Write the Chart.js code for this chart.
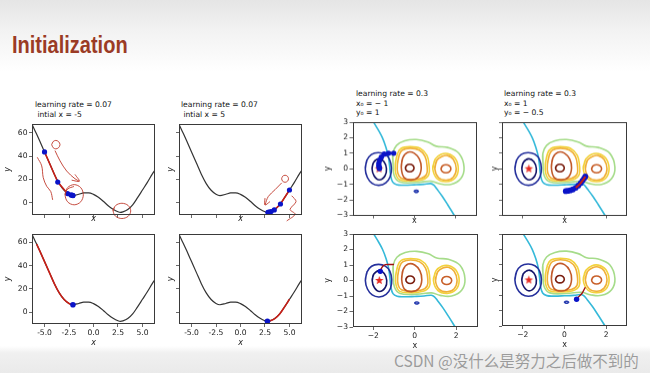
<!DOCTYPE html>
<html>
<head>
<meta charset="utf-8">
<script src="https://cdn.jsdelivr.net/npm/chart.js@4.4.0/dist/chart.umd.min.js"></script>
<style>
html, body { margin: 0; padding: 0; }
body {
  width: 650px; height: 373px; position: relative; overflow: hidden;
  font-family: "DejaVu Sans", sans-serif;
  background: linear-gradient(#e5e5e5 0px, #f2f2f2 30px, #ffffff 72px, #ffffff 346px, #f0f0f0 353px, #eaeaea 373px);
}
#slideTitle {
  position: absolute; left: 12px; top: 32px; line-height: 23px;
  font: bold 23px "Liberation Sans", Arial, sans-serif; color: #9b3b25;
  transform: scaleX(0.87); transform-origin: 0 0; white-space: nowrap;
}
.ttl { position: absolute; font-size: 7.6px; color: #111; white-space: pre; }
.t1 { line-height: 10.5px; top: 99.7px; }
.t2 { line-height: 9.6px; top: 89px; }
canvas { position: absolute; }
#mark {
  position: absolute; left: 394px; top: 349px; line-height: 16px;
  font: 15.5px "Noto Sans CJK SC", sans-serif; color: rgba(128,128,128,0.75); white-space: nowrap;
}
</style>
</head>
<body>
<div id="slideTitle">Initialization</div>
<div class="ttl t1" style="left:35px">learning rate = 0.07
 intial x = -5</div>
<div class="ttl t1" style="left:181px">learning rate = 0.07
 intial x = 5</div>
<div class="ttl t2" style="left:356px">learning rate = 0.3
x₀ = − 1
y₀ = 1</div>
<div class="ttl t2" style="left:504px">learning rate = 0.3
x₀ = 1
y₀ = − 0.5</div>
<div id="mark">CSDN @没什么是努力之后做不到的</div>

<script>
// 1-d loss curve
const curveX = [-6.28, -6.0, -5.8, -5.5, -5.0, -4.5, -4.0, -3.5, -3.0, -2.5, -2.1, -1.5, -1.0, -0.5, 0.0, 0.5, 1.0, 1.5, 2.0, 2.5, 2.75, 3.0, 3.5, 4.0, 4.5, 5.0, 5.5, 6.0, 6.28];
const curveY = [67, 62, 58.5, 53, 43.5, 34, 24.5, 16.5, 10.8, 7.4, 6.3, 7.4, 8.5, 8.6, 7.3, 4.8, 1.4, -2.4, -5.4, -7.5, -8.0, -7.6, -5.6, -1.6, 4.5, 11, 17.5, 24.5, 28];

const xTicks1d = [-5, -2.5, 0, 2.5, 5];
const yTicks1d = [0, 20, 40, 60];
const xTicks2d = [-2, 0, 2];
const yTicks2d = [-3, -2, -1, 0, 1, 2, 3];

// gradient descent steps, 1-d
const pathAX = [-5.0, -3.65, -2.65, -2.3, -2.17, -2.12, -2.1];
const pathAY = [43.5, 17.8, 8.0, 6.8, 6.45, 6.35, 6.3];
const pathBX = [5.0, 4.08, 3.45, 3.12, 2.95, 2.85, 2.8];
const pathBY = [11, -0.9, -6.0, -7.4, -7.8, -7.95, -8.0];
const endC = [-2.1, 6.3];
const endD = [2.75, -8.0];

// contour lines of the 2-d surface
const navyOuter = [[-2.38,0],[-2.3,0.55],[-2.08,0.92],[-1.75,1.04],[-1.42,0.93],[-1.2,0.6],[-1.11,0.05],[-1.17,-0.5],[-1.38,-0.9],[-1.72,-1.06],[-2.05,-0.93],[-2.28,-0.55]];
const navyInner = [[-2.05,0],[-1.98,0.4],[-1.72,0.64],[-1.47,0.45],[-1.35,0],[-1.42,-0.45],[-1.7,-0.71],[-1.95,-0.45]];
const blueBlob = [[0,-1.45],[0.05,-1.395],[0.1,-1.385],[0.15,-1.395],[0.2,-1.45],[0.15,-1.505],[0.1,-1.515],[0.05,-1.505]];
const cyanLine = [[-2.0,3.05],[-1.75,2.5],[-1.55,2.0],[-1.38,1.4],[-1.26,0.8],[-1.2,0.2],[-1.15,-0.4],[-1.05,-0.85],[-0.85,-1.02],[-0.5,-1.05],[0,-1.03],[0.45,-1.0],[0.8,-0.95],[0.95,-1.05],[1.1,-1.3],[1.35,-1.75],[1.62,-2.3],[1.97,-3.05]];
const greenRing = [[-1.03,0.33],[-1.04,0.98],[-0.86,1.5],[-0.46,1.8],[0.1,1.88],[0.66,1.72],[1.06,1.45],[1.62,1.37],[2.18,0.98],[2.42,0.1],[2.26,-0.63],[1.78,-1.0],[1.22,-0.96],[0.82,-0.8],[0.1,-0.88],[-0.7,-0.84],[-0.98,-0.42]];
const yellowLeft = [[-0.92,0.3],[-0.82,0.95],[-0.65,1.3],[-0.2,1.42],[0.3,1.3],[0.62,0.85],[0.72,0.2],[0.7,-0.4],[0.4,-0.7],[-0.2,-0.78],[-0.72,-0.7],[-0.9,-0.3]];
const orangeLeft = [[-0.82,0.3],[-0.73,0.88],[-0.58,1.2],[-0.2,1.32],[0.24,1.2],[0.52,0.8],[0.62,0.2],[0.6,-0.35],[0.33,-0.62],[-0.2,-0.69],[-0.64,-0.6],[-0.8,-0.28]];
const siennaLeft = [[-0.63,0.1],[-0.56,0.7],[-0.32,1.06],[0,1.0],[0.25,0.62],[0.34,0.05],[0.2,-0.52],[-0.15,-0.72],[-0.5,-0.55]];
const brownLeft = [[-0.43,0.05],[-0.37,0.22],[-0.22,0.29],[-0.07,0.22],[-0.01,0.05],[-0.07,-0.12],[-0.22,-0.19],[-0.37,-0.12]];
const yellowRight = [[0.9,0],[1.02,0.62],[1.3,0.92],[1.62,0.97],[1.98,0.68],[2.14,0],[1.98,-0.6],[1.56,-0.83],[1.12,-0.65]];
const orangeRight = [[1.0,0],[1.1,0.55],[1.35,0.8],[1.62,0.85],[1.9,0.6],[2.04,0],[1.9,-0.53],[1.56,-0.73],[1.18,-0.57]];
const siennaRight = [[1.3,0],[1.37,0.18],[1.54,0.26],[1.71,0.18],[1.78,0],[1.71,-0.18],[1.54,-0.26],[1.37,-0.18]];
const minimum = [-1.71, 0.0];

// gradient descent steps, 2-d
const pathEX = [-1.0, -1.25, -1.46, -1.6, -1.68, -1.72, -1.72, -1.7, -1.69];
const pathEY = [1.0, 1.0, 0.94, 0.75, 0.55, 0.35, 0.2, 0.08, 0.02];
const pathFX = [1.0, 0.94, 0.86, 0.77, 0.66, 0.54, 0.4, 0.27, 0.15, 0.06];
const pathFY = [-0.5, -0.62, -0.77, -0.93, -1.08, -1.22, -1.33, -1.39, -1.42, -1.44];
const pathGX = [-1.0, -1.2, -1.42, -1.55, -1.63, -1.66];
const pathGY = [1.03, 1.03, 1.02, 0.9, 0.72, 0.59];
const pathHX = [1.0, 0.85, 0.66, 0.58];
const pathHY = [-0.47, -0.85, -1.13, -1.26];

// hand-drawn red pen marks on the slide
const penA = [
  [[-2.9,7],[-2.65,13],[-1.97,15.6],[-1.3,13],[-1.04,7],[-1.3,1],[-1.97,-1.6],[-2.65,1],[-2.9,7.5],[-2.6,12],[-2.0,14]],
  [[2.0,-6.8],[2.26,-2.2],[2.9,-0.3],[3.54,-2.2],[3.8,-6.8],[3.54,-11.4],[2.9,-13.3],[2.26,-11.4],[2.0,-6.8],[2.1,-4]],
  [[-4.27,49.7],[-4.12,52.3],[-3.85,53.3],[-3.57,52.3],[-3.42,49.7],[-3.57,47.1],[-3.85,46.1],[-4.12,47.1],[-4.27,49.7]],
  [[-3.93,44.6],[-3.42,35.9],[-2.74,27.2],[-1.89,20.6],[-1.45,18.5]],
  [[-1.89,24.3],[-1.45,18.5],[-2.23,19.4]],
  [[-5.74,38.9],[-5.29,31.6],[-5.13,21.5],[-4.78,14.2],[-4.37,9.8],[-4.17,2.6]]
];
const penB = [
  [[4.2,20.6],[4.3,22.7],[4.55,23.6],[4.8,22.7],[4.9,20.6],[4.8,18.5],[4.55,17.6],[4.3,18.5],[4.2,20.6]],
  [[4.21,17.1],[3.53,11.3],[2.84,5.5],[2.5,-1.7]],
  [[2.5,4.1],[2.5,-1.7],[3.01,1.1]],
  [[5.23,6.1],[5.67,1.1],[5.06,-5.5],[5.57,-9.6],[4.72,-15.4]]
];

const xy = (xs, ys) => xs.map((x, i) => ({x, y: ys[i]}));
const pairs = arr => arr.map(([x, y]) => ({x, y}));
const loop = arr => pairs(arr.concat([arr[0], arr[1]]));
const curve = xy(curveX, curveY);

function line(data, color, width, opt) {
  return Object.assign({data, showLine: true, borderColor: color, borderWidth: width,
    pointRadius: 0, tension: 0.4}, opt || {});
}
function dots(data, color, r) {
  return {data, showLine: false, pointRadius: r, pointBackgroundColor: color,
    pointBorderColor: color, pointBorderWidth: 0};
}

function starImage(r, color) {
  const c = document.createElement('canvas');
  c.width = c.height = 2 * r + 2;
  const g = c.getContext('2d');
  g.fillStyle = color;
  g.beginPath();
  for (let i = 0; i < 10; i++) {
    const a = -Math.PI / 2 + i * Math.PI / 5, rr = i % 2 ? r * 0.42 : r;
    g.lineTo(r + 1 + rr * Math.cos(a), r + 1 + rr * Math.sin(a));
  }
  g.closePath();
  g.fill();
  return c;
}
const star = starImage(4.5, '#e8281e');

const RED = '#c81e16', BLUE = '#0a14c8', PEN = '#c0392b';

function penSets(list) {
  return list.map(p => line(pairs(p), PEN, 0.9, {clip: false, tension: 0.35}));
}

function contours() {
  return [
    line(loop(greenRing), '#a6dc8a', 1.6),
    line(loop(yellowLeft), '#f2d23c', 1.6),
    line(loop(orangeLeft), '#f0b038', 1.6),
    line(loop(siennaLeft), '#c25a2a', 1.6),
    line(loop(brownLeft), '#7b1f10', 1.6),
    line(loop(yellowRight), '#f2d23c', 1.6),
    line(loop(orangeRight), '#f0b038', 1.6),
    line(loop(siennaRight), '#c8602a', 1.6),
    line(pairs(cyanLine), '#35b9d9', 1.6),
    line(loop(navyOuter), '#25309c', 1.6),
    line(loop(navyInner), '#16166a', 1.6),
    line(loop(blueBlob), '#2a3eb0', 1.6)
  ];
}
const starSet = () => ({data: [{x: minimum[0], y: minimum[1]}], showLine: false, pointStyle: star, pointRadius: 5});

const frameBox = {
  id: 'frameBox',
  afterDraw(chart) {
    const a = chart.chartArea, g = chart.ctx;
    g.save();
    g.strokeStyle = '#3a3a3a';
    g.lineWidth = 1;
    g.strokeRect(Math.round(a.left) + 0.5, Math.round(a.top) + 0.5,
      Math.round(a.right - a.left) - 1, Math.round(a.bottom - a.top) - 1);
    g.restore();
  }
};

function makeChart(p) {
  const T = 10, R = 10;
  const W = p.w + p.L + R, H = p.h + T + p.B;
  const cv = document.createElement('canvas');
  cv.width = W; cv.height = H;
  cv.style.left = (p.x - p.L) + 'px';
  cv.style.top = (p.y - T) + 'px';
  cv.style.width = W + 'px';
  cv.style.height = H + 'px';
  document.body.appendChild(cv);
  p.datasets.forEach((d, i, a) => { d.order = a.length - i; });

  const is2d = p.kind === '2d';
  const tickFont = {family: 'DejaVu Sans', size: 7.6};
  const titleFont = {family: 'DejaVu Sans', size: 8, style: is2d ? 'normal' : 'italic'};
  const fmt2d = v => String(v).replace('-', '\u2212');
  const axis = (min, max, ticks, fmt, show, fit, title) => ({
    type: 'linear', min, max,
    afterBuildTicks: s => { s.ticks = ticks.map(v => ({value: v})); },
    afterFit: fit,
    ticks: {callback: show ? fmt : () => '', font: tickFont, color: '#222', padding: 1.5,
      autoSkip: false, maxRotation: 0, minRotation: 0},
    grid: {drawOnChartArea: false, drawTicks: true, tickLength: 3, color: '#444', lineWidth: 0.8},
    border: {display: false},
    title: {display: true, text: title, font: titleFont, color: '#222', padding: 0}
  });

  new Chart(cv, {
    type: 'scatter',
    data: {datasets: p.datasets},
    options: {
      responsive: false, animation: false, events: [],
      layout: {padding: {top: T, right: R, left: 0, bottom: 0}},
      plugins: {legend: {display: false}, tooltip: {enabled: false}},
      scales: {
        x: is2d
          ? axis(-3, 3, xTicks2d, fmt2d, p.xLabels, s => { s.height = p.B; }, 'x')
          : axis(-6.28, 6.28, xTicks1d, v => v.toFixed(1), p.xLabels, s => { s.height = p.B; }, 'x'),
        y: is2d
          ? axis(-3, 3, yTicks2d, fmt2d, p.yLabels, s => { s.width = p.L; }, 'y')
          : axis(-10.3, 67.3, yTicks1d, v => String(v), p.yLabels, s => { s.width = p.L; }, 'y')
      }
    },
    plugins: [frameBox]
  });
}

const inRange = (a, b) => curve.filter(pt => pt.x >= a && pt.x <= b);

const plots = [
  {x: 32, y: 124, w: 123, h: 91, L: 29, B: 9, kind: '1d', xLabels: false, yLabels: true,
    datasets: [line(curve, '#333', 1.2, {cubicInterpolationMode: 'monotone'}),
      line(xy(pathAX, pathAY), RED, 1.5, {tension: 0}),
      dots(xy(pathAX, pathAY), BLUE, 2.6)].concat(penSets(penA))},
  {x: 179, y: 124, w: 123, h: 91, L: 13, B: 9, kind: '1d', xLabels: false, yLabels: false,
    datasets: [line(curve, '#333', 1.2, {cubicInterpolationMode: 'monotone'}),
      line(xy(pathBX, pathBY), RED, 1.5, {tension: 0}),
      dots(xy(pathBX, pathBY), BLUE, 2.6)].concat(penSets(penB))},
  {x: 32, y: 234, w: 123, h: 90, L: 29, B: 24, kind: '1d', xLabels: true, yLabels: true,
    datasets: [line(curve, '#333', 1.2, {cubicInterpolationMode: 'monotone'}),
      line(inRange(-5.8, -2.1), RED, 1.6, {cubicInterpolationMode: 'monotone'}),
      dots([{x: endC[0], y: endC[1]}], BLUE, 2.8)]},
  {x: 179, y: 234, w: 123, h: 90, L: 13, B: 24, kind: '1d', xLabels: true, yLabels: false,
    datasets: [line(curve, '#333', 1.2, {cubicInterpolationMode: 'monotone'}),
      line(inRange(2.75, 5.0), RED, 1.6, {cubicInterpolationMode: 'monotone'}),
      dots([{x: endD[0], y: endD[1]}], BLUE, 2.8)]},
  {x: 352, y: 122, w: 124, h: 93, L: 29.5, B: 10.5, kind: '2d', xLabels: false, yLabels: true,
    datasets: contours().concat([starSet(),
      line(xy(pathEX, pathEY), RED, 2, {tension: 0.2}),
      dots(xy(pathEX, pathEY), BLUE, 2.7)])},
  {x: 502, y: 122, w: 125, h: 93, L: 12, B: 10.5, kind: '2d', xLabels: false, yLabels: false,
    datasets: contours().concat([starSet(),
      dots(xy(pathFX, pathFY), BLUE, 2.9),
      line(xy(pathFX.slice(0, 6), pathFY.slice(0, 6)), RED, 2, {tension: 0.2})])},
  {x: 352, y: 234, w: 125, h: 93, L: 29.5, B: 24, kind: '2d', xLabels: true, yLabels: true,
    datasets: contours().concat([starSet(),
      line(xy(pathGX, pathGY), '#a01010', 1.4, {tension: 0.3}),
      dots([{x: pathGX[pathGX.length - 1], y: pathGY[pathGY.length - 1]}], BLUE, 2.7)])},
  {x: 502, y: 234, w: 125, h: 92, L: 12, B: 24, kind: '2d', xLabels: true, yLabels: false,
    datasets: contours().concat([starSet(),
      line(xy(pathHX, pathHY), '#a01010', 1.4, {tension: 0.3}),
      dots([{x: pathHX[pathHX.length - 1], y: pathHY[pathHY.length - 1]}], BLUE, 2.7)])}
];

plots.forEach(makeChart);
</script>
</body>
</html>
